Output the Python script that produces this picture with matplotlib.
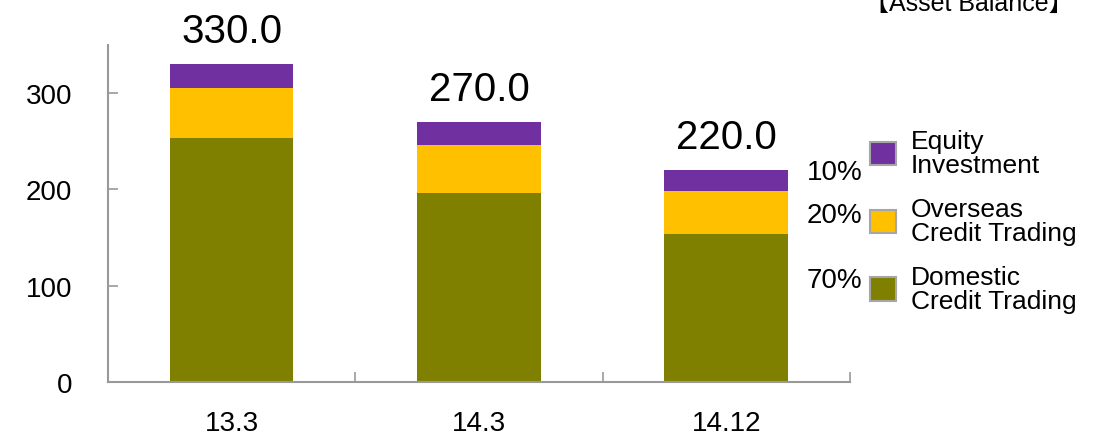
import matplotlib.pyplot as plt
from matplotlib.patches import Patch

plt.rcParams['font.family'] = ['Liberation Sans', 'Noto Sans CJK SC', 'DejaVu Sans']

# ---------- data ----------
periods = ['13.3', '14.3', '14.12']
domestic = [254, 196, 154]
overseas = [51, 50, 44]
equity = [25, 24, 22]
totals = [d + o + e for d, o, e in zip(domestic, overseas, equity)]

series_names = ['Equity\nInvestment', 'Overseas\nCredit Trading', 'Domestic\nCredit Trading']
colors = {'equity': '#7030A0', 'overseas': '#FFC000', 'domestic': '#808000'}
grey = '#999999'

# ---------- figure ----------
fig = plt.figure(figsize=(10.99, 4.35), dpi=100)
ax = fig.add_axes([0.0983, 0.1195, 0.675, 0.7745])

x = range(len(periods))
ax.bar(x, domestic, width=0.5, color=colors['domestic'])
ax.bar(x, overseas, width=0.5, bottom=domestic, color=colors['overseas'])
base = [d + o for d, o in zip(domestic, overseas)]
ax.bar(x, equity, width=0.5, bottom=base, color=colors['equity'])

# totals above the bars
for i, t in enumerate(totals):
    ax.annotate(f'{t:.1f}', (i, t), xytext=(0, 10), textcoords='offset points',
                ha='center', va='bottom', fontsize=29)

# ---------- axes styling ----------
ax.set_xlim(-0.5, 2.5)
ax.set_ylim(0, 350)
ax.set_yticks([0, 100, 200, 300])
ax.set_xticks(list(x))
ax.set_xticklabels(periods)
ax.set_xticks([0.5, 1.5, 2.5], minor=True)
ax.tick_params(axis='x', which='major', length=0, pad=20, labelsize=20)
ax.tick_params(axis='x', which='minor', direction='in', length=7, width=1.2, color=grey)
ax.tick_params(axis='y', direction='in', length=7, width=1.2, color=grey, pad=26, labelsize=20)
for side in ['top', 'right']:
    ax.spines[side].set_visible(False)
for side in ['left', 'bottom']:
    ax.spines[side].set_color(grey)
    ax.spines[side].set_linewidth(1.5)

# ---------- legend + shares of the latest bar ----------
handles = [Patch(facecolor=colors[k], edgecolor='#a6a6a6', linewidth=1.5)
           for k in ['equity', 'overseas', 'domestic']]
leg = fig.legend(handles, series_names, loc='upper left', bbox_to_anchor=(0.782, 0.725),
                 frameon=False, fontsize=19, handlelength=1.0, handleheight=1.0,
                 labelspacing=0.75, handletextpad=0.55, borderaxespad=0)
for t in leg.get_texts():
    t.set_linespacing(1.0)

last = len(periods) - 1
shares = [equity[last], overseas[last], domestic[last]]
share_y = [0.603, 0.503, 0.355]
for s, yy in zip(shares, share_y):
    fig.text(0.785, yy, f'{s / totals[last]:.0%}', ha='right', va='center', fontsize=20)

fig.text(0.977, 0.99, '【Asset Balance】', ha='right', va='center', fontsize=18)

fig.savefig('out.png', dpi=100)
